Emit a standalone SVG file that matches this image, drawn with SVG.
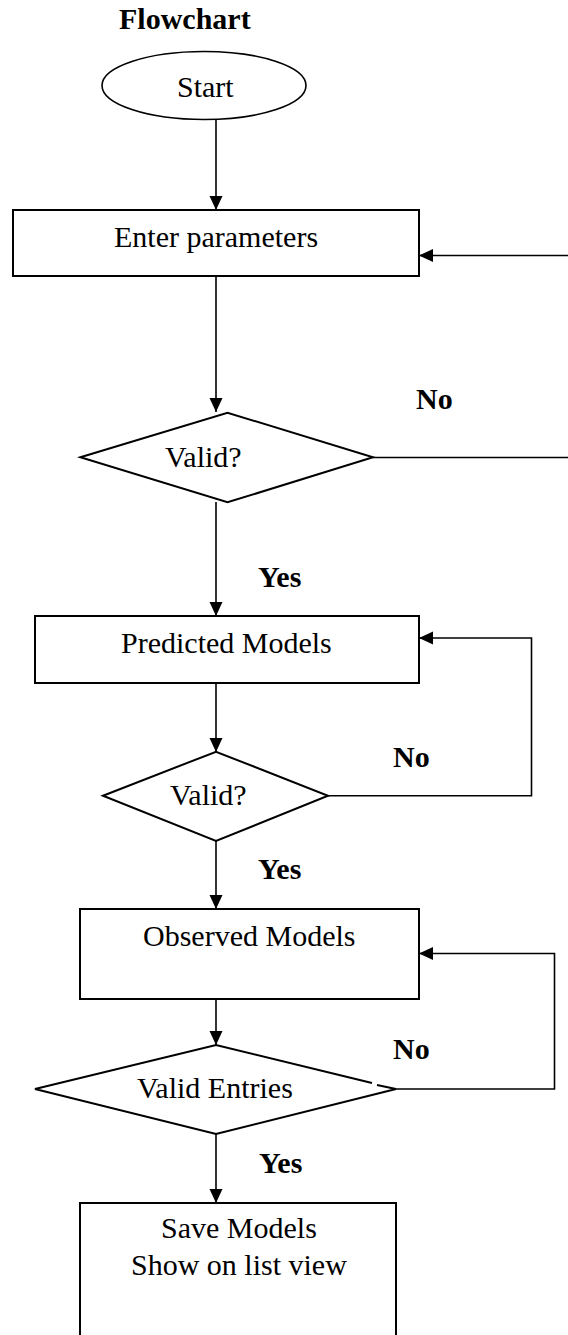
<svg xmlns="http://www.w3.org/2000/svg" width="568" height="1335" viewBox="0 0 568 1335">
  <style>
    .shape { fill: #fff; stroke: #000; stroke-width: 2; }
    .link { fill: none; stroke: #000; stroke-width: 1.6; }
    .lbl { font-family: "Liberation Serif", "Times New Roman", serif; font-size: 30px; fill: #000; }
    .bold { font-weight: bold; }
  </style>
  <defs>
    <marker id="arrow" markerUnits="userSpaceOnUse" markerWidth="14" markerHeight="14" viewBox="0 0 14 14" refX="14" refY="7" orient="auto">
      <path d="M0,0.5 L14,7 L0,13.5 Z" fill="#000"/>
    </marker>
  </defs>
  <rect width="568" height="1335" fill="#fff"/>

  <text id="title" class="lbl bold" x="119" y="29">Flowchart</text>

  <g id="connectors">
    <path class="link" d="M216,119 V210" marker-end="url(#arrow)"/>
    <path class="link" d="M216,276 V412" marker-end="url(#arrow)"/>
    <path class="link" d="M373,457.5 H572 V255.5 H419" marker-end="url(#arrow)"/>
    <path class="link" d="M216,502 V616" marker-end="url(#arrow)"/>
    <path class="link" d="M216,683 V752" marker-end="url(#arrow)"/>
    <path class="link" d="M328,795.7 H531.5 V638 H419" marker-end="url(#arrow)"/>
    <path class="link" d="M216,841 V909" marker-end="url(#arrow)"/>
    <path class="link" d="M216,999 V1045" marker-end="url(#arrow)"/>
    <path class="link" d="M396,1089 H554.5 V953.5 H419" marker-end="url(#arrow)"/>
    <path class="link" d="M216,1134 V1203" marker-end="url(#arrow)"/>
  </g>

  <g id="start">
    <ellipse class="shape" cx="204" cy="85.5" rx="102" ry="34" style="stroke-width:1.6"/>
    <text class="lbl" x="177" y="96.7">Start</text>
  </g>

  <g id="enter-parameters">
    <rect class="shape" x="13" y="210" width="406" height="66"/>
    <text class="lbl" x="114" y="247">Enter parameters</text>
  </g>

  <g id="valid-1">
    <polygon class="shape" points="80.4,457.3 227.5,412.7 373,457.3 227.5,502.3"/>
    <text class="lbl" x="165" y="466.7">Valid?</text>
    <text class="lbl bold" x="416" y="409">No</text>
    <text class="lbl bold" x="258" y="587">Yes</text>
  </g>

  <g id="predicted-models">
    <rect class="shape" x="35" y="616" width="384" height="67"/>
    <text class="lbl" x="121" y="652.7">Predicted Models</text>
  </g>

  <g id="valid-2">
    <polygon class="shape" points="103,795.7 216,751.7 328,795.7 216,841"/>
    <text class="lbl" x="170" y="805">Valid?</text>
    <text class="lbl bold" x="393" y="766.7">No</text>
    <text class="lbl bold" x="258" y="879.3">Yes</text>
  </g>

  <g id="observed-models">
    <rect class="shape" x="80" y="909" width="339" height="90"/>
    <text class="lbl" x="143" y="946">Observed Models</text>
  </g>

  <g id="valid-entries">
    <path class="shape" d="M372,1083 L216,1045 L35,1089 L216,1134 L396,1089 L377,1085"/>
    <text class="lbl" x="137" y="1098">Valid Entries</text>
    <text class="lbl bold" x="393" y="1059.3">No</text>
    <text class="lbl bold" x="259" y="1173">Yes</text>
  </g>

  <g id="save-models">
    <rect class="shape" x="80" y="1203" width="316" height="160"/>
    <text class="lbl" x="161" y="1238">Save Models</text>
    <text class="lbl" x="131" y="1275">Show on list view</text>
  </g>
</svg>
